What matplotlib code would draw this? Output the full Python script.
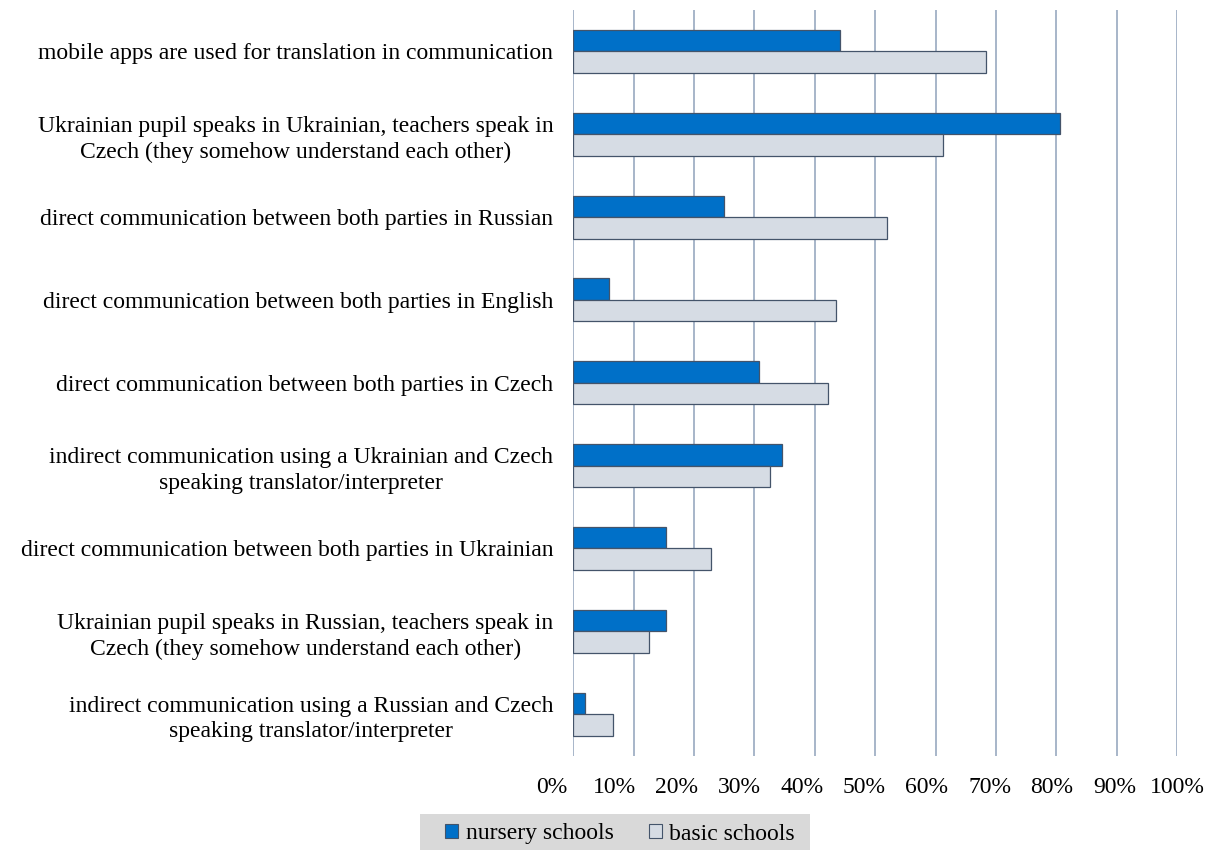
import matplotlib
matplotlib.use("Agg")
import matplotlib.pyplot as plt
from matplotlib.patches import Rectangle, Patch
from matplotlib.transforms import ScaledTranslation
import numpy as np

categories = [
    "mobile apps are used for translation in communication",
    "Ukrainian pupil speaks in Ukrainian, teachers speak in\nCzech (they somehow understand each other)",
    "direct communication between both parties in Russian",
    "direct communication between both parties in English",
    "direct communication between both parties in Czech",
    "indirect communication using a Ukrainian and Czech\nspeaking translator/interpreter",
    "direct communication between both parties in Ukrainian",
    "Ukrainian pupil speaks in Russian, teachers speak in\nCzech (they somehow understand each other)",
    "indirect communication using a Russian and Czech\nspeaking translator/interpreter",
]
nursery = [44.2, 80.7, 25.0, 5.9, 30.8, 34.6, 15.4, 15.4, 1.9]
basic = [68.4, 61.3, 52.0, 43.5, 42.2, 32.5, 22.8, 12.5, 6.6]
series_names = ["nursery schools", "basic schools"]
xticks = [0, 10, 20, 30, 40, 50, 60, 70, 80, 90, 100]
xtick_labels = [f"{v}%" for v in xticks]

plt.rcParams['font.family'] = ['Liberation Serif', 'DejaVu Serif']
FS = 17

W, H = 1213, 850
fig = plt.figure(figsize=(W / 100, H / 100), dpi=100)
ax = fig.add_axes([573.3 / W, 1 - 755.5 / H, (1177 - 573.3) / W, (755.5 - 10) / H])

c_n = "#0070C8"
c_b = "#D6DCE4"
edge = "#44546A"
bh = 0.26
y = np.arange(len(categories))
ax.barh(y - bh / 2, nursery, height=bh, color=c_n, edgecolor=edge, linewidth=0.9, zorder=3)
ax.barh(y + bh / 2, basic, height=bh, color=c_b, edgecolor=edge, linewidth=0.9, zorder=3)

ax.set_xticks(xticks)
ax.set_xticklabels(xtick_labels, fontsize=FS)
ax.tick_params(axis='x', length=0, pad=15.5)
ax.set_xlim(0, 100)
ax.set_ylim(len(categories) - 0.5, -0.5)

# the reference spreads the percentage labels slightly wider than the gridlines
n = len(xticks)
for i, tick in enumerate(ax.xaxis.get_major_ticks()[:n]):
    dx = (-21.3 + 2.13 * i) / 100.0
    lbl = tick.label1
    lbl.set_transform(lbl.get_transform() + ScaledTranslation(dx, 0, fig.dpi_scale_trans))

ax.set_yticks(y)
ax.set_yticklabels(categories, fontsize=FS, ha='right', multialignment='center',
                   linespacing=1.3)
ax.tick_params(axis='y', length=0, pad=14.5)
ax.grid(axis='x', color="#A7B5C9", linewidth=1.4, zorder=0)
ax.set_axisbelow(True)
for s in ax.spines.values():
    s.set_visible(False)

fig.patches.append(Rectangle((420 / W, 0), 390 / W, 36 / H, transform=fig.transFigure,
                             facecolor="#D9D9D9", edgecolor='none', zorder=0))
handles = [Patch(facecolor=c_n, edgecolor=edge, linewidth=0.8),
           Patch(facecolor=c_b, edgecolor=edge, linewidth=0.8)]
fig.legend(handles, series_names, loc='center', bbox_to_anchor=(620 / W, 1 - 834 / H),
           ncol=2, frameon=False, fontsize=FS, handlelength=0.55, handleheight=0.55,
           handletextpad=0.3, columnspacing=1.5, borderpad=0)

fig.savefig("out.png", dpi=100)
